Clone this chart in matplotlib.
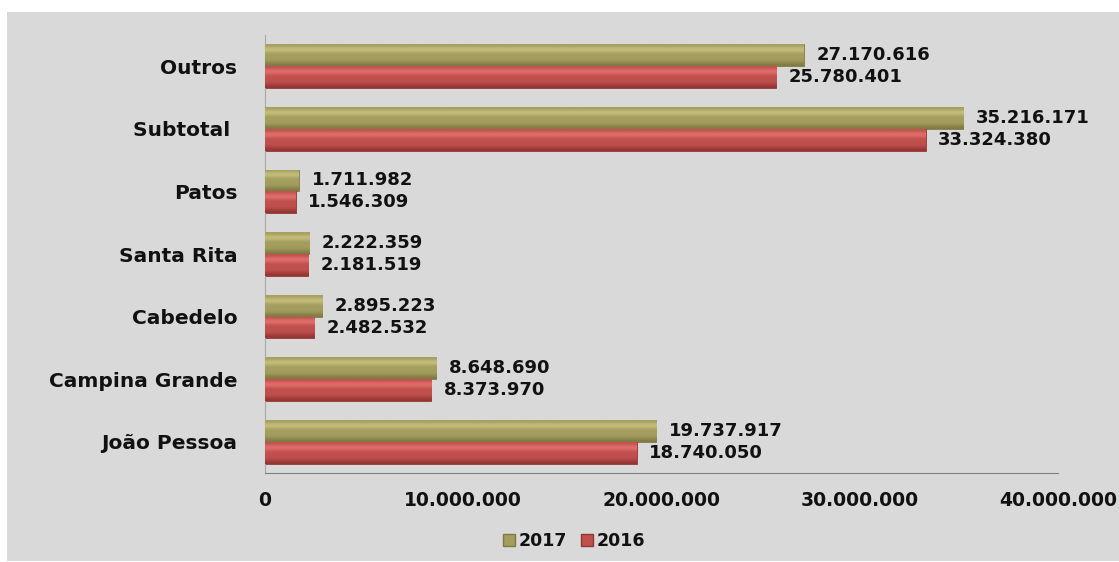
import matplotlib
matplotlib.use('Agg')
import matplotlib.pyplot as plt
import numpy as np
from matplotlib.patches import Patch, Rectangle
from matplotlib.ticker import FuncFormatter

# categories from bottom to top
categories = ['João Pessoa', 'Campina Grande', 'Cabedelo', 'Santa Rita', 'Patos', 'Subtotal ', 'Outros']
vals_2017 = [19737917, 8648690, 2895223, 2222359, 1711982, 35216171, 27170616]
vals_2016 = [18740050, 8373970, 2482532, 2181519, 1546309, 33324380, 25780401]
xticks = [0, 10000000, 20000000, 30000000, 40000000]

col_2017 = ['#7f7a42', '#a39d5e', '#d2ca86']   # dark, mid, light
col_2016 = ['#933533', '#c0504d', '#ef7b77']


def fmt(v):
    return '{:,}'.format(int(v)).replace(',', '.')


def shade(ax, bars, cols):
    # vertical gradient on each bar, lighter on top
    c = [matplotlib.colors.to_rgb(x) for x in cols]
    grad = np.array([c[0], c[1], c[1], c[1], c[2], c[1]])
    grad = grad.reshape(-1, 1, 3)
    for b in bars:
        x0, y0 = b.get_x(), b.get_y()
        w, h = b.get_width(), b.get_height()
        im = ax.imshow(grad, extent=(x0, x0 + w, y0, y0 + h), origin='lower',
                       aspect='auto', interpolation='bicubic', zorder=3)
        im.set_clip_path(b)


def main():
    fig = plt.figure(figsize=(11.19, 5.62), dpi=100, facecolor='white')
    fig.patches.append(Rectangle((7 / 1119, 0.002), 1 - 7 / 1119, 1 - 12 / 562 - 0.002,
                                 transform=fig.transFigure, facecolor='#d9d9d9',
                                 edgecolor='none', zorder=-10))
    ax = fig.add_axes([265 / 1119, 1 - 473 / 562, (1058 - 265) / 1119, (473 - 35) / 562])
    ax.set_facecolor('none')

    y = np.arange(len(categories))
    h = 0.35
    b17 = ax.barh(y + h / 2, vals_2017, height=h, color=col_2017[1],
                  edgecolor=col_2017[0], linewidth=0.6, zorder=2)
    b16 = ax.barh(y - h / 2, vals_2016, height=h, color=col_2016[1],
                  edgecolor=col_2016[0], linewidth=0.6, zorder=2)
    shade(ax, b17, col_2017)
    shade(ax, b16, col_2016)

    for bars, vals in ((b17, vals_2017), (b16, vals_2016)):
        for b, v in zip(bars, vals):
            ax.annotate(fmt(v), (v, b.get_y() + b.get_height() / 2),
                        xytext=(9, 0), textcoords='offset points', va='center',
                        ha='left', fontsize=13, fontweight='bold', color='#111111')

    ax.set_xlim(0, 40000000)
    ax.set_ylim(-0.5, len(categories) - 0.5)
    ax.set_xticks(xticks)
    ax.xaxis.set_major_formatter(FuncFormatter(lambda v, p: fmt(v)))
    ax.set_yticks(y)
    ax.set_yticklabels(categories)
    ax.tick_params(axis='x', length=0, pad=13, labelsize=13.5)
    ax.tick_params(axis='y', length=0, pad=20, labelsize=14.5)
    for lab in ax.get_xticklabels() + ax.get_yticklabels():
        lab.set_fontweight('bold')
        lab.set_color('#111111')

    for s in ['top', 'right']:
        ax.spines[s].set_visible(False)
    ax.spines['left'].set_color('#a6a6a6')
    ax.spines['bottom'].set_color('#808080')

    handles = [Patch(facecolor=col_2017[1], edgecolor=col_2017[0], label='2017'),
               Patch(facecolor=col_2016[1], edgecolor=col_2016[0], label='2016')]
    leg = ax.legend(handles=handles, loc='center', bbox_to_anchor=(0.39, -0.155),
                    ncol=2, frameon=False, handlelength=0.7, handleheight=0.7,
                    handletextpad=0.2, columnspacing=0.8,
                    prop={'weight': 'bold', 'size': 12.5})
    for t in leg.get_texts():
        t.set_color('#111111')

    fig.savefig('out.png', dpi=100, facecolor=fig.get_facecolor())


if __name__ == '__main__':
    main()
